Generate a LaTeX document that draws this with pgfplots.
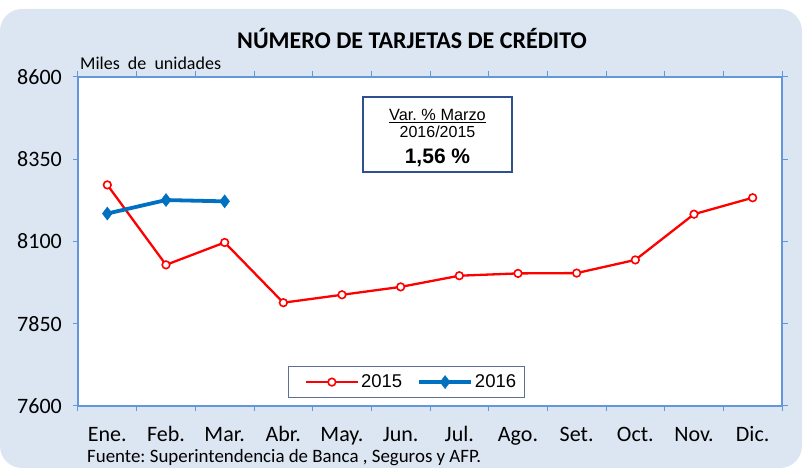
\documentclass[border=0pt]{standalone}
\usepackage{pgfplots}
\pgfplotsset{compat=1.18}
\usepackage{fontspec}
\setmainfont{Carlito}
\newfontfamily\arial{Liberation Sans}
\definecolor{bg}{HTML}{DCE6F2}
\definecolor{frame}{HTML}{6496DC}
\definecolor{red15}{HTML}{FF0000}
\definecolor{blue16}{HTML}{0070C0}
\definecolor{boxc}{HTML}{2F4F8F}
\definecolor{legc}{HTML}{5F6F8F}
\frenchspacing
\begin{document}
\begin{tikzpicture}[x=1pt,y=1pt]
\fill[bg, rounded corners=22pt] (0,2) rectangle (802,461);
\node[font=\fontsize{24}{28}\selectfont\bfseries] at (412,431) {NÚMERO DE TARJETAS DE CRÉDITO};
\node[font=\fontsize{18}{20}\selectfont, anchor=base west, inner sep=0pt] at (80,400) {Miles\ \ de\ \ unidades};
\node[font=\fontsize{18.9}{20}\selectfont, anchor=base west, inner sep=0pt] at (87,7) {Fuente: Superintendencia de Banca , Seguros y AFP.};
\begin{axis}[at={(78pt,64pt)}, anchor=south west, scale only axis, width=704pt, height=329pt,
  xmin=0.5, xmax=12.5, ymin=7600, ymax=8600,
  ytick={7600,7850,8100,8350,8600},
  xtick={0.5,1.5,...,12.5},
  xticklabels={Ene.,Feb.,Mar.,Abr.,May.,Jun.,Jul.,Ago.,Set.,Oct.,Nov.,Dic.,},
  tick align=outside, major tick length=5.5pt,
  tick style={draw=frame, line width=1pt},
  axis line style={draw=frame, line width=2.4pt},
  axis background/.style={fill=white},
  /pgf/number format/assume math mode=true,
  /pgf/number format/1000 sep={},
  yticklabel style={font=\fontsize{22}{24}\selectfont, inner sep=0pt, xshift=-10.5pt},
  xticklabel style={font=\fontsize{22}{24}\selectfont, inner sep=0pt, anchor=base, xshift=29.33pt, yshift=-30.5pt},
  legend image code/.code={\path (-10pt,0pt); \draw[mark repeat=2,mark phase=2] plot coordinates {(0pt,0pt) (26pt,0pt) (52pt,0pt)};},
  legend columns=2,
  legend style={at={(0.2987,0.025)}, anchor=south west, draw=legc, line width=0.9pt,
    font=\arial\fontsize{18.5}{20}\selectfont, inner xsep=6pt, inner ysep=6pt,
    /tikz/every even column/.append style={column sep=3pt}},
]
\addplot[red15, line width=2.3pt, mark=*, mark size=3.8pt, mark options={fill=white, draw=red15, line width=1.6pt}]
 coordinates {(1,8272)(2,8029)(3,8097)(4,7914)(5,7938)(6,7962)(7,7996)(8,8003)(9,8004)(10,8044)(11,8183)(12,8233)};
\addlegendentry{2015}
\addplot[blue16, line width=3.8pt, mark=diamond*, mark size=6.5pt, mark options={line width=0.5pt, fill=blue16}]
 coordinates {(1,8185)(2,8226)(3,8222)};
\addlegendentry{2016}
\end{axis}
\node[draw=boxc, line width=1.8pt, fill=white, minimum width=149pt, minimum height=75pt] at (437.5,335.5) {};
\node[font=\arial\fontsize{16.3}{18}\selectfont, anchor=base, inner sep=0pt] at (437.5,349.6) {\underline{Var. \% Marzo}};
\node[font=\arial\fontsize{16}{18}\selectfont, anchor=base, inner sep=0pt] at (437.5,332.3) {2016/2015};
\node[font=\arial\fontsize{21}{24}\selectfont\bfseries, anchor=base, inner sep=0pt] at (437.5,306.5) {1,56 \%};
\pgfresetboundingbox
\path[use as bounding box] (0,0) rectangle (806,470);
\end{tikzpicture}
\end{document}
